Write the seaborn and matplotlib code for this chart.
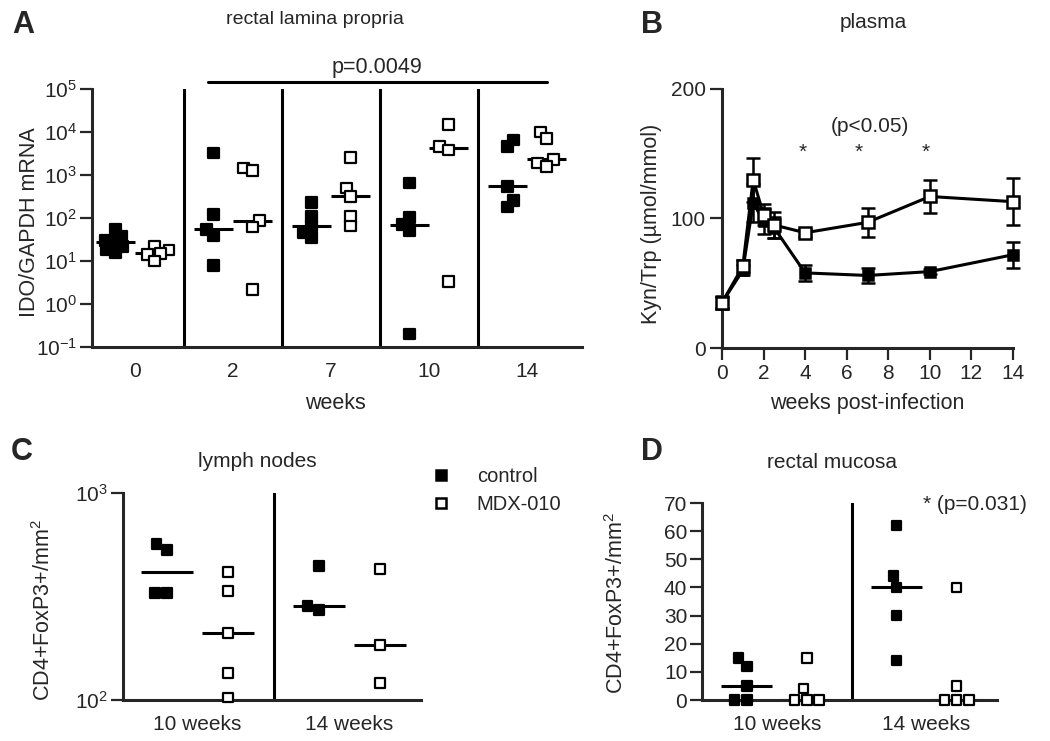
import numpy as np
import pandas as pd
import matplotlib
matplotlib.use('Agg')
import matplotlib.pyplot as plt
from matplotlib.ticker import NullLocator
from matplotlib.lines import Line2D
import seaborn as sns

groups = ['control', 'MDX-010']

# A - rectal lamina propria, IDO/GAPDH mRNA per animal
weeks_a = ['0', '2', '7', '10', '14']
ido_control = [[55, 38, 30, 28, 22, 18, 16],
               [3250, 123, 55, 40, 8],
               [230, 110, 65, 45, 35],
               [650, 105, 70, 50, 0.2],
               [6500, 4500, 550, 260, 180]]
ido_mdx = [[22, 18, 15, 14, 10],
           [1450, 1300, 86, 62, 2.2],
           [2600, 500, 320, 110, 65],
           [15000, 4500, 3800, 3.3],
           [10000, 7000, 2300, 1900, 1600]]

# B - plasma Kyn/Trp, mean and SEM
weeks_b = [0, 1, 1.5, 2, 2.5, 4, 7, 10, 14]
kyn_control = [35, 60, 112, 98, 93, 58, 56, 59, 72]
kyn_control_sem = [4, 4, 15, 10, 8, 6, 6, 2, 10]
kyn_mdx = [35, 63, 130, 103, 95, 89, 97, 117, 113]
kyn_mdx_sem = [5, 5, 17, 8, 10, 3, 11, 13, 18]
star_weeks = [3.9, 6.6, 9.8]

# C / D - CD4+FoxP3+ cells per mm2
weeks_cd = ['10 weeks', '14 weeks']
ln_control = [[568, 530, 329, 329], [444, 285, 272]]
ln_mdx = [[415, 336, 211, 135, 103], [430, 184, 121]]
rm_control = [[15, 12, 5, 0, 0], [62, 44, 40, 30, 14]]
rm_mdx = [[15, 4, 0, 0, 0], [40, 5, 0, 0, 0]]


def to_long(cats, ctrl, mdx):
    rows = []
    for cat, c, m in zip(cats, ctrl, mdx):
        rows += [(cat, 'control', v) for v in c]
        rows += [(cat, 'MDX-010', v) for v in m]
    return pd.DataFrame(rows, columns=['week', 'group', 'value'])


sns.set_theme(style='ticks')
plt.rcParams['font.family'] = ['Liberation Sans', 'DejaVu Sans']
plt.rcParams['font.size'] = 14
plt.rcParams['mathtext.fontset'] = 'custom'
plt.rcParams['mathtext.rm'] = 'Liberation Sans'
plt.rcParams['mathtext.it'] = 'Liberation Sans:italic'
plt.rcParams['mathtext.bf'] = 'Liberation Sans:bold'
plt.rcParams['axes.linewidth'] = 2.2
LABEL = 15.5
TICK = 15
TITLE = 15

W, H = 1050, 741
fig = plt.figure(figsize=(W / 100, H / 100), dpi=100)


def px_axes(x0, y0, x1, y1):
    return fig.add_axes([x0 / W, 1 - y1 / H, (x1 - x0) / W, (y1 - y0) / H])


pal = {'control': 'black', 'MDX-010': 'white'}


def scatter_panel(ax, df, order, size, gap):
    sns.boxplot(data=df, x='week', y='value', hue='group', order=order,
                hue_order=groups, palette=pal, dodge=True, fill=False,
                showfliers=False, whis=0, gap=gap, legend=False, ax=ax,
                boxprops={'visible': False}, whiskerprops={'visible': False},
                capprops={'visible': False},
                medianprops={'color': 'black', 'linewidth': 2.2})
    sns.swarmplot(data=df, x='week', y='value', hue='group', order=order,
                  hue_order=groups, palette=pal, dodge=True, marker='s',
                  size=size, edgecolor='black', linewidth=1.6, legend=False,
                  ax=ax, clip_on=False, zorder=4, warn_thresh=1)
    for x in np.arange(len(order) - 1) + 0.5:
        ax.axvline(x, color='black', lw=2.2)
    sns.despine(ax=ax)
    ax.tick_params(axis='x', length=0, pad=11, labelsize=TICK)
    ax.tick_params(axis='y', length=8.6, width=1.6, pad=2, labelsize=TICK)
    ax.set_xlabel('')


# ---- A ----
ax_a = px_axes(92, 89, 582, 347)
ax_a.set_yscale('log')
# swarm laid out with smaller squares so the clusters overlap like the original
scatter_panel(ax_a, to_long(weeks_a, ido_control, ido_mdx), weeks_a, 5.0, 0.0)
ax_a.set_ylim(0.1, 1e5)
ax_a.set_yticks([10.0 ** k for k in range(-1, 6)])
ax_a.yaxis.set_minor_locator(NullLocator())
ax_a.set_xlim(-0.44, 4.56)
ax_a.set_ylabel('IDO/GAPDH mRNA', fontsize=LABEL)
ax_a.yaxis.set_label_coords(-0.106, 0.485)
ax_a.set_xlabel('weeks', fontsize=LABEL)
ax_a.xaxis.set_label_coords(0.496, -0.18)
ax_a.plot([0.237, 0.929], [1.027, 1.027], color='black', lw=2.2,
          transform=ax_a.transAxes, clip_on=False)
ax_a.text(0.582, 1.085, 'p=0.0049', transform=ax_a.transAxes,
          ha='center', va='center', fontsize=15.5)
ax_a.text(0.455, 1.271, 'rectal lamina propria', transform=ax_a.transAxes,
          ha='center', va='center')

# ---- B ----
ax_b = px_axes(722, 89, 1013, 348)
for mean, sem, face, ms in [(kyn_control, kyn_control_sem, 'black', 7.5),
                            (kyn_mdx, kyn_mdx_sem, 'white', 9.0)]:
    ax_b.errorbar(weeks_b, mean, yerr=sem, fmt='none', ecolor='black',
                  elinewidth=1.8, capsize=4.7, capthick=1.8, zorder=2,
                  clip_on=False)
    sns.lineplot(x=weeks_b, y=mean, color='black', lw=2.2, marker='s',
                 markersize=ms, markerfacecolor=face, markeredgecolor='black',
                 markeredgewidth=1.8, ax=ax_b, clip_on=False, zorder=3)
ax_b.set_xlim(0, 14)
ax_b.set_ylim(0, 200)
ax_b.set_xticks(range(0, 15, 2))
ax_b.set_yticks([0, 100, 200])
sns.despine(ax=ax_b)
ax_b.tick_params(length=8.6, width=1.6, pad=3, labelsize=TICK)
ax_b.set_ylabel('Kyn/Trp (\u00b5mol/mmol)', fontsize=LABEL)
ax_b.yaxis.set_label_coords(-0.206, 0.48)
ax_b.set_xlabel('weeks post-infection', fontsize=LABEL)
ax_b.xaxis.set_label_coords(0.5, -0.175)
for w in star_weeks:
    ax_b.text(w, 151, '*', ha='center', va='center', fontsize=15)
ax_b.text(7.1, 171, '(p<0.05)', ha='center', va='center', fontsize=15)
ax_b.text(0.519, 1.255, 'plasma', transform=ax_b.transAxes,
          ha='center', va='center', fontsize=TITLE)

# ---- C ----
ax_c = px_axes(123, 493, 421, 700)
ax_c.set_yscale('log')
scatter_panel(ax_c, to_long(weeks_cd, ln_control, ln_mdx), weeks_cd, 6.8, 0.15)
ax_c.set_ylim(100, 1000)
ax_c.set_yticks([100, 1000])
ax_c.yaxis.set_minor_locator(NullLocator())
ax_c.set_xlim(-0.49, 1.47)
ax_c.set_ylabel('CD4+FoxP3+/mm$^2$', fontsize=LABEL)
ax_c.yaxis.set_label_coords(-0.228, 0.435)
ax_c.text(0.45, 1.15, 'lymph nodes', transform=ax_c.transAxes,
          ha='center', va='center', fontsize=TITLE)
handles = [Line2D([], [], ls='none', marker='s', markersize=7.2,
                  markerfacecolor=pal[g], markeredgecolor='black',
                  markeredgewidth=1.8, label=g) for g in groups]
ax_c.legend(handles=handles, loc='center left', bbox_to_anchor=(0.998, 1.01),
            frameon=False, borderpad=0, handletextpad=1.3, handlelength=1.0,
            labelspacing=0.45, fontsize=14.5)

# ---- D ----
ax_d = px_axes(702, 503, 997, 700)
scatter_panel(ax_d, to_long(weeks_cd, rm_control, rm_mdx), weeks_cd, 6.8, 0.15)
ax_d.set_ylim(0, 70)
ax_d.set_yticks(range(0, 71, 10))
ax_d.set_xlim(-0.5, 1.47)
ax_d.set_ylabel('CD4+FoxP3+/mm$^2$', fontsize=LABEL)
ax_d.yaxis.set_label_coords(-0.251, 0.49)
ax_d.text(1.10, 0.99, '* (p=0.031)', transform=ax_d.transAxes,
          ha='right', va='center', fontsize=15)
ax_d.text(0.44, 1.208, 'rectal mucosa', transform=ax_d.transAxes,
          ha='center', va='center', fontsize=TITLE)

# panel letters
for letter, x, y in [('A', 23, 25), ('B', 652, 25), ('C', 22, 452), ('D', 652, 452)]:
    fig.text(x / W, 1 - y / H, letter, fontsize=22, fontweight='bold',
             ha='center', va='center')

# lay out the panel A swarm once, then freeze it and draw the squares full size
fig.canvas.draw()
for coll in ax_a.collections:
    if 'draw' in vars(coll):
        del coll.draw
        coll.set_sizes([7.8 ** 2])

fig.savefig('out.png', dpi=100)
